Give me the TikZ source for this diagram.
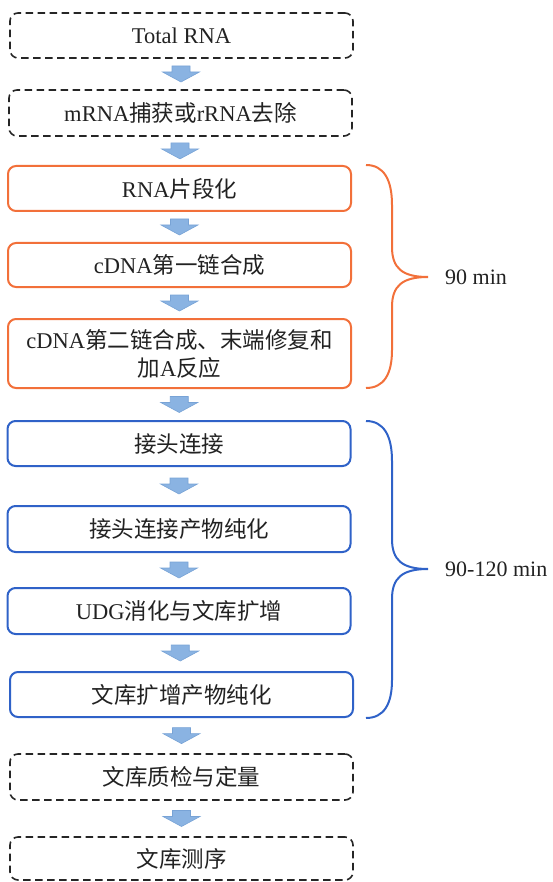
\documentclass[tikz,border=0pt]{standalone}
\usepackage{fontspec}
\setmainfont{Liberation Serif}
\newfontfamily\cjk{Noto Sans CJK SC}
\newcommand{\zh}[1]{{\cjk #1}}
\usetikzlibrary{calc}
\definecolor{orangeline}{HTML}{F2703A}
\definecolor{blueline}{HTML}{2F62C8}
\definecolor{arrowfill}{HTML}{8AB3E2}
\definecolor{arrowedge}{HTML}{78A3D6}
\definecolor{txt}{HTML}{222222}
\begin{document}
\begin{tikzpicture}[x=1pt,y=-1pt,
  box/.style={rounded corners=8pt, minimum width=343pt, minimum height=45pt, inner sep=0pt, align=center, text=txt, font=\fontsize{22.5}{28}\selectfont},
  dashbox/.style={box, draw=black!85, line width=1.6pt, dash pattern=on 7.5pt off 4.5pt},
  obox/.style={box, draw=orangeline, line width=2pt},
  bbox/.style={box, draw=blueline, line width=2pt},
  bracestyle/.style={line width=2pt},
  lbl/.style={anchor=west, inner sep=0pt, text=txt, font=\fontsize{22}{28}\selectfont},
  downarr/.pic={\draw[fill=arrowfill, draw=arrowedge, line width=0.6pt] (-9,-8) -- (9,-8) -- (9,-2) -- (18.5,-2) -- (0,8) -- (-18.5,-2) -- (-9,-2) -- cycle;}
]
\useasboundingbox (0,0) rectangle (553,882);

\node[dashbox] (b1) at (181.5,35.5) {Total RNA};
\node[dashbox, minimum height=46pt] (b2) at (180.5,113) {mRNA\zh{捕获或}rRNA\zh{去除}};
\node[obox] (b3) at (179.5,188.5) {RNA\zh{片段化}};
\node[obox, minimum height=44pt] (b4) at (179.5,265) {cDNA\zh{第一链合成}};
\node[obox, minimum height=69pt] (b5) at (179.5,353.5) {cDNA\zh{第二链合成、末端修复和}\\\zh{加}A\zh{反应}};
\node[bbox] (b6) at (179,443.5) {\zh{接头连接}};
\node[bbox, minimum height=46pt] (b7) at (179,529) {\zh{接头连接产物纯化}};
\node[bbox, minimum height=46pt] (b8) at (179,611) {UDG\zh{消化与文库扩增}};
\node[bbox] (b9) at (181.5,694.5) {\zh{文库扩增产物纯化}};
\node[dashbox, minimum height=46pt] (b10) at (181.5,777) {\zh{文库质检与定量}};
\node[dashbox, minimum height=43pt] (b11) at (181.5,858.5) {\zh{文库测序}};

\foreach \a/\b in {b1/b2,b2/b3,b3/b4,b4/b5,b5/b6,b6/b7,b7/b8,b8/b9,b9/b10,b10/b11}
  \pic at ($(\a.south)!0.5!(\b.north)$) {downarr};

\coordinate (o1) at (366,165);
\coordinate (o2) at (366,388);
\coordinate (ot) at (428,277);
\draw[bracestyle, orangeline] (o1) .. controls (384,165) and (392,180) .. (392,205) -- (392,247)
  .. controls (392,268) and (402,277) .. (ot)
  .. controls (402,277) and (392,286) .. (392,307) -- (392,350)
  .. controls (392,374) and (384,388) .. (o2);
\node[lbl] (l1) at (445,277) {90 min};

\coordinate (u1) at (366,421);
\coordinate (u2) at (366,718);
\coordinate (ut) at (428,569);
\draw[bracestyle, blueline] (u1) .. controls (384,421) and (392,436) .. (392,461) -- (392,539)
  .. controls (392,560) and (402,569) .. (ut)
  .. controls (402,569) and (392,578) .. (392,599) -- (392,680)
  .. controls (392,704) and (384,718) .. (u2);
\node[lbl] (l2) at (445,569) {90-120 min};
\end{tikzpicture}
\end{document}
